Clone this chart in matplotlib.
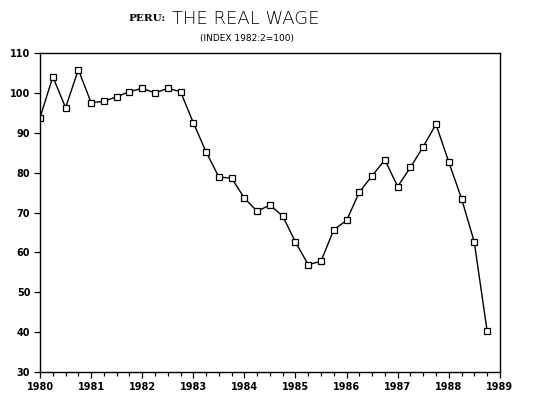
import matplotlib
matplotlib.use("Agg")
import matplotlib.pyplot as plt
import numpy as np

# quarterly real wage index, 1980:1 - 1988:4 (1982:2 = 100)
years = list(range(1980, 1989))
quarters = [1, 2, 3, 4]
wage = [
    93.8, 104.0, 96.3, 105.8,
    97.5, 97.9, 99.0, 100.3,
    101.1, 100.0, 101.1, 100.3,
    92.5, 85.2, 78.9, 78.6,
    73.6, 70.3, 71.9, 69.1,
    62.6, 56.9, 57.8, 65.7,
    68.0, 75.1, 79.2, 83.2,
    76.5, 81.3, 86.5, 92.1,
    82.7, 73.5, 62.6, 40.4,
]
year_ticks = list(range(1980, 1990))
y_ticks = [30, 40, 50, 60, 70, 80, 90, 100, 110]

t = np.array([y + (q - 1) / 4 for y in years for q in quarters])

fig = plt.figure(figsize=(5.34, 3.95), dpi=100)
ax = fig.add_axes([0.075, 0.058, 0.861, 0.808])

ax.plot(t, wage, color="black", linewidth=1.0, marker="s", markersize=4.2,
        markerfacecolor="white", markeredgecolor="black", markeredgewidth=0.9)

ax.set_xlim(1980, 1989)
ax.set_ylim(30, 110)
ax.set_xticks(year_ticks)
ax.set_xticks(np.arange(1980, 1989.01, 0.25), minor=True)
ax.set_yticks(y_ticks)
ax.tick_params(axis="both", which="major", direction="out", length=4, width=0.9,
               labelsize=7, pad=3)
ax.tick_params(axis="x", which="minor", direction="out", length=3, width=0.9)
for lbl in ax.get_xticklabels() + ax.get_yticklabels():
    lbl.set_fontweight("bold")
for s in ax.spines.values():
    s.set_linewidth(1.0)

fig.text(0.31, 0.952, "PERU:", fontsize=7.5, family="DejaVu Serif",
         fontweight="bold", ha="right", va="center")
fig.text(0.322, 0.952, "THE REAL WAGE", fontsize=13, family="DejaVu Sans",
         fontweight="light", ha="left", va="center")
fig.text(0.462, 0.902, "(INDEX 1982:2=100)", fontsize=6.5, family="DejaVu Sans",
         ha="center", va="center")

fig.savefig("out.png", dpi=100)
